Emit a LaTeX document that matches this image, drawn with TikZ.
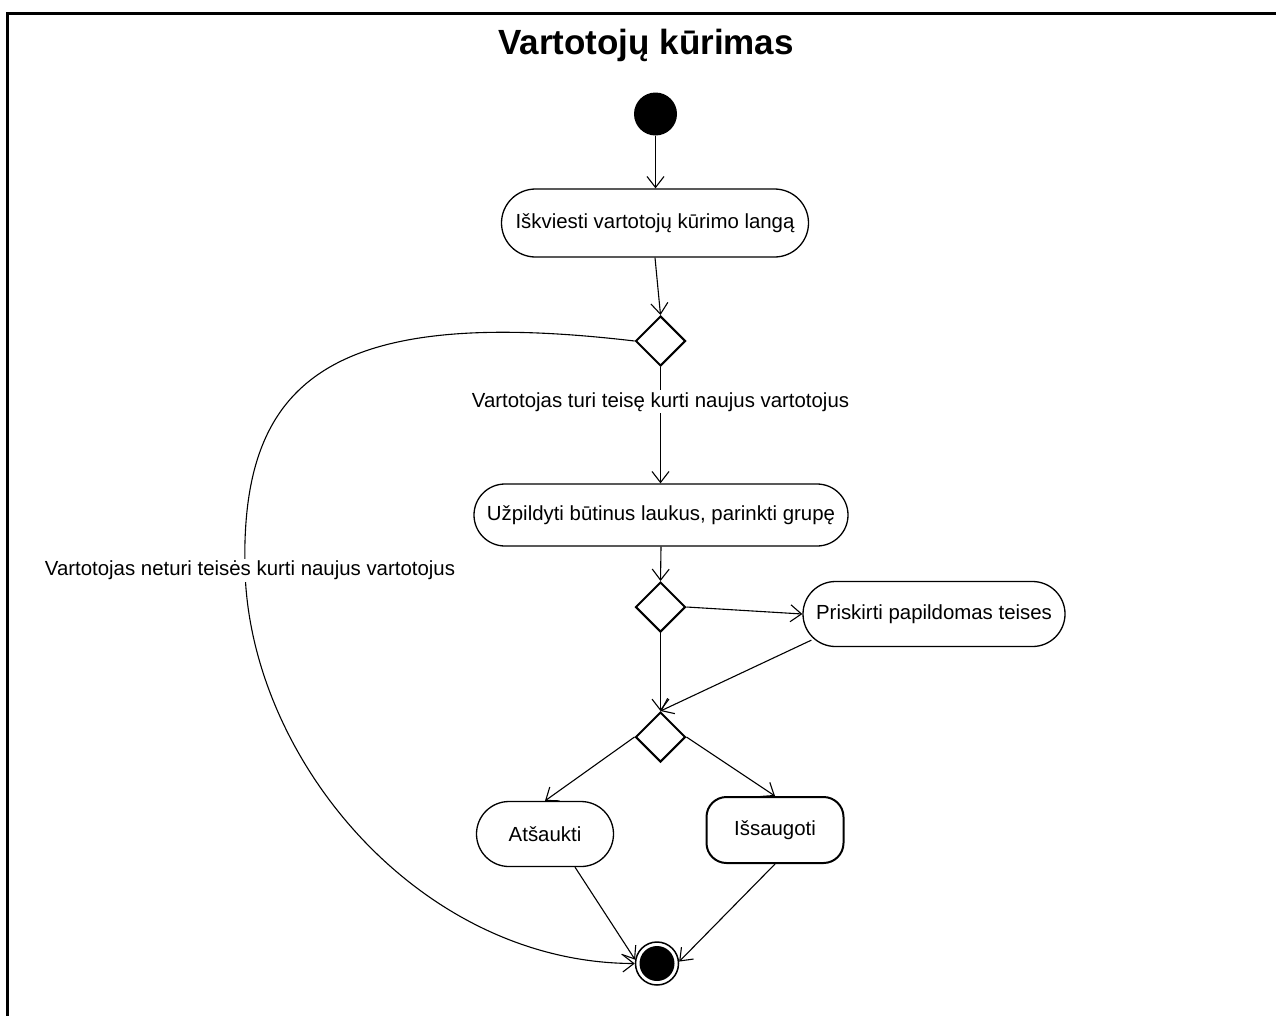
\documentclass[tikz,border=0pt]{standalone}
\usepackage{fontspec}
\setmainfont{Liberation Sans}
\usetikzlibrary{shapes.geometric,arrows.meta}
\begin{document}
\begin{tikzpicture}[x=1pt,y=-1pt,
  every node/.style={font=\fontsize{20.4}{24}\selectfont},
  act/.style={draw, line width=1.3pt, rectangle, inner sep=0pt},
  choice/.style={draw, diamond, line width=2pt, minimum width=50pt, minimum height=50pt, inner sep=0pt},
  flow/.style={line width=1.1pt, -{Straight Barb[length=11pt,width=17pt]}},
  guard/.style={fill=white, inner sep=2pt}
]
\path[use as bounding box, clip] (0,0) rectangle (1276,1015);
\fill[white] (0,0) rectangle (1276,1015);
% frame
\draw[line width=2.2pt] (7.5,1030) -- (7.5,13.5) -- (1290,13.5);
\node[font=\fontsize{35}{42}\selectfont\bfseries] (title) at (646,45) {Vartotojų kūrimas};

% nodes
\node[circle, fill=black, minimum size=43pt, inner sep=0pt] (start) at (655.5,114) {};
\node[act, minimum width=307pt, minimum height=68pt, rounded corners=34pt] (a1) at (655,223) {Iškviesti vartotojų kūrimo langą};
\node[choice] (d1) at (660.5,341) {};
\node[act, minimum width=374pt, minimum height=62pt, rounded corners=31pt] (a2) at (661,515) {Užpildyti būtinus laukus, parinkti grupę};
\node[choice] (d2) at (660.5,607) {};
\node[act, minimum width=262pt, minimum height=65pt, rounded corners=32.5pt] (a3) at (934,614) {Priskirti papildomas teises};
\node[choice] (d3) at (660.5,737) {};
\node[act, minimum width=137pt, minimum height=65pt, rounded corners=32.5pt] (cancel) at (545,834) {Atšaukti};
\node[act, line width=2pt, minimum width=137pt, minimum height=66pt, rounded corners=20pt] (save) at (775,830) {Išsaugoti};
\node[circle, draw, line width=1.5pt, minimum size=43pt, inner sep=0pt] (final) at (657,963.5) {};
\fill (final.center) circle (17.5);

% connectors
\draw[flow] (start) -- (start |- a1.north);
\draw[flow] (a1.south) -- (d1.north);
\draw[flow] (d1.south) -- node[guard, pos=0.3] {Vartotojas turi teisę kurti naujus vartotojus} (d1.south |- a2.north);
\draw[flow] (d1.west) .. controls (330,305) and (240,380) .. (245,570)
  node[guard, xshift=5pt] {Vartotojas neturi teisės kurti naujus vartotojus}
  .. controls (250,760) and (420,963) .. (final.west);
\draw[flow] (a2.south) -- (d2.north);
\draw[flow] (d2.east) -- (a3.west);
\draw[flow] (d2.south) -- (d3.north);
\draw[flow] ([shift={(9,-7)}]a3.south west) -- (d3.north);
\draw[flow] (d3.west) -- (cancel.north);
\draw[flow] (d3.east) -- (save.north);
\draw[flow] ([xshift=30pt]cancel.south) -- (final.170);
\draw[flow] (save.south) -- (final.5);
\end{tikzpicture}
\end{document}
